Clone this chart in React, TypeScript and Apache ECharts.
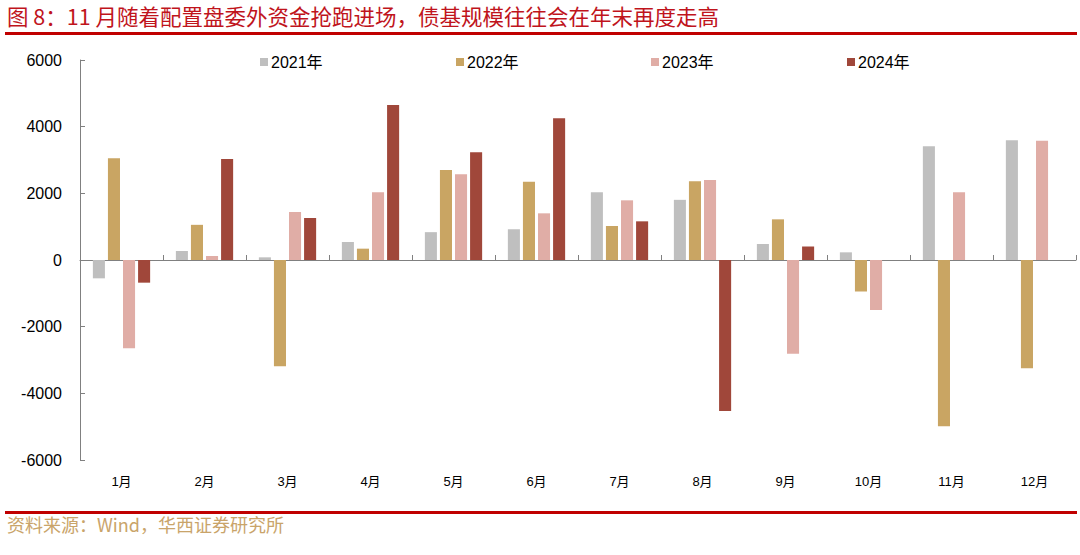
import React, { useEffect, useRef } from "react";
import * as echarts from "echarts";

const titleText = "图 8：11 月随着配置盘委外资金抢跑进场，债基规模往往会在年末再度走高";
const sourceText = "资料来源：Wind，华西证券研究所";

const months = ["1月", "2月", "3月", "4月", "5月", "6月", "7月", "8月", "9月", "10月", "11月", "12月"];
const seriesNames = ["2021年", "2022年", "2023年", "2024年"];
const y2021 = [-550, 270, 80, 540, 835, 925, 2035, 1805, 480, 230, 3415, 3595];
const y2022 = [3050, 1055, -3190, 340, 2700, 2345, 1020, 2365, 1220, -945, -4990, -3250];
const y2023 = [-2645, 120, 1440, 2035, 2570, 1400, 1790, 2400, -2815, -1500, 2035, 3580];
const y2024 = [-680, 3030, 1260, 4650, 3230, 4250, 1160, -4530, 405, null, null, null];
const yMin = -6000;
const yMax = 6000;
const yInterval = 2000;

const colors = ["#BFBFBF", "#C9A563", "#E0ADA6", "#A0473A"];
const legendLefts = [260, 456, 651, 847];

export default function App() {
  const ref = useRef<HTMLDivElement>(null);
  useEffect(() => {
    if (!ref.current) return;
    const chart = echarts.init(ref.current, null, { renderer: "svg" });
    const dataSets = [y2021, y2022, y2023, y2024];
    const font = "'Liberation Sans', Arial, 'Noto Sans CJK SC', sans-serif";
    chart.setOption({
      animation: false,
      backgroundColor: "#ffffff",
      textStyle: { fontFamily: font },
      grid: { left: 80, right: 4, top: 60, bottom: 95, containLabel: false },
      legend: seriesNames.map((n, i) => ({
        data: [n],
        left: legendLefts[i],
        top: 54,
        itemWidth: 8,
        itemHeight: 8,
        itemGap: 0,
        padding: 0,
        icon: "rect",
        textStyle: { fontSize: 16, color: "#000", fontFamily: font, padding: [0, 0, 0, -2] },
        selectedMode: false,
      })),
      xAxis: [
        {
          type: "category",
          data: months,
          axisLine: { onZero: true, lineStyle: { color: "#808080", width: 1 } },
          axisTick: { show: true, inside: true, length: 5, lineStyle: { color: "#808080" } },
          axisLabel: { show: false },
          splitLine: { show: false },
        },
        {
          type: "category",
          data: months,
          position: "bottom",
          axisLine: { show: false, onZero: false },
          axisTick: { show: false },
          axisLabel: { show: true, fontSize: 13, color: "#000", margin: 15, fontFamily: font },
          splitLine: { show: false },
        },
      ],
      yAxis: {
        type: "value",
        min: yMin,
        max: yMax,
        interval: yInterval,
        axisLine: { show: true, lineStyle: { color: "#808080", width: 1 } },
        axisTick: { show: true, inside: true, length: 5, lineStyle: { color: "#808080" } },
        axisLabel: {
          fontSize: 16,
          color: "#000",
          margin: 18,
          fontFamily: font,
          formatter: (v: number) => String(v),
        },
        splitLine: { show: false },
      },
      series: seriesNames.map((n, i) => ({
        name: n,
        type: "bar",
        xAxisIndex: 0,
        data: dataSets[i],
        barCategoryGap: "31%",
        barGap: "25%",
        itemStyle: { color: colors[i] },
      })),
      graphic: [
        {
          type: "text",
          left: 7,
          top: 5,
          style: {
            text: titleText,
            fill: "#C0141C",
            fontSize: 21.5,
            fontFamily: "'Noto Sans CJK SC', sans-serif",
          },
        },
        {
          type: "rect",
          shape: { x: 5, y: 32, width: 1072, height: 3 },
          style: { fill: "#C00000" },
        },
        {
          type: "rect",
          shape: { x: 5, y: 511, width: 1072, height: 3 },
          style: { fill: "#C00000" },
        },
        {
          type: "text",
          left: 7,
          top: 515,
          style: {
            text: sourceText,
            fill: "#C9A46A",
            fontSize: 18,
            fontFamily: "'Noto Sans CJK SC', sans-serif",
          },
        },
      ],
    });
    return () => chart.dispose();
  }, []);
  return (
    <div
      ref={ref}
      style={{ position: "fixed", left: 0, top: 0, width: 1080, height: 555 }}
    />
  );
}
